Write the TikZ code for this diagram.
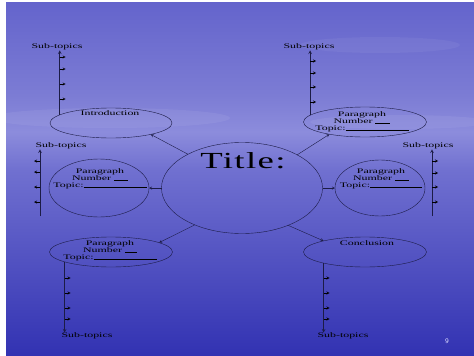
\documentclass[tikz,border=0pt]{standalone}
\usepackage{fontspec}
\newfontfamily\slidefont{Liberation Serif}[FakeStretch=1.7]
\newfontfamily\titlefont{Liberation Serif}[FakeStretch=1.6,LetterSpace=6]
\usepackage{tikz}
\usetikzlibrary{shapes,arrows,positioning}

\definecolor{skytop}{RGB}{100,100,204}
\definecolor{skylow}{RGB}{124,124,212}
\definecolor{horizon}{RGB}{140,140,220}
\definecolor{seamid}{RGB}{112,112,208}
\definecolor{seabot}{RGB}{50,50,178}
\definecolor{linecol}{RGB}{28,28,70}

\begin{document}
\begin{tikzpicture}[
  x=1pt, y=-1pt,
  bubble/.style={ellipse,draw=linecol,inner sep=0pt,outer sep=0pt},
  lbl/.style={font=\slidefont\fontsize{7}{6.8}\selectfont,text=black,inner sep=0pt,align=center},
  conn/.style={->,>=stealth,draw=linecol},
  stem/.style={->,>=stealth,draw=linecol,semithick},
  tickarr/.style={->,>=stealth,draw=black,thin}
]
\useasboundingbox (0,0) rectangle (474,356);

% Background
\fill[white] (0,0) rectangle (474,356);
\shade[top color=skytop,bottom color=skylow] (6,2) rectangle (474,95);
\shade[top color=skylow,bottom color=horizon] (6,95) rectangle (474,132);
\shade[top color=horizon,bottom color=seamid] (6,132) rectangle (474,170);
\shade[top color=seamid,bottom color=seabot] (6,170) rectangle (474,356);
\fill[white,opacity=0.06] (110,118) ellipse (120 and 10);
\fill[white,opacity=0.06] (400,122) ellipse (90 and 7);
\fill[white,opacity=0.05] (380,45) ellipse (80 and 8);

% Bubbles
\node[bubble,minimum width=161pt,minimum height=91pt] (title) at (242,188) {};
\node[bubble,minimum width=122pt,minimum height=30pt] (intro) at (111,123) {};
\node[bubble,minimum width=123pt,minimum height=30pt] (parUR) at (365,122) {};
\node[bubble,minimum width=100pt,minimum height=58pt] (parL) at (99,188) {};
\node[bubble,minimum width=90pt,minimum height=56pt] (parR) at (380,188) {};
\node[bubble,minimum width=123pt,minimum height=30pt] (parLL) at (111,252) {};
\node[bubble,minimum width=123pt,minimum height=30pt] (concl) at (365,252) {};

% Texts
\node[lbl,font=\titlefont\fontsize{23}{23}\selectfont] (titletxt) at (243,161) {Title:};
\node[lbl] (introtxt) at (110,113) {Introduction};
\node[lbl] (parURtxt) at (362,122) {Paragraph\\Number \rule{15pt}{0.4pt}\\Topic:\rule{63pt}{0.4pt}};
\node[lbl] (parLtxt) at (100,179) {Paragraph\\Number \rule{14pt}{0.4pt}\\Topic:\rule{63pt}{0.4pt}};
\node[lbl] (parRtxt) at (381,179) {Paragraph\\Number \rule{14pt}{0.4pt}\\Topic:\rule{52pt}{0.4pt}};
\node[lbl] (parLLtxt) at (110,251) {Paragraph\\Number \rule{12pt}{0.4pt}\\Topic:\rule{63pt}{0.4pt}};
\node[lbl] (concltxt) at (367,243) {Conclusion};

\node[lbl] (tlsub) at (57,47) {Sub-topics};
\node[lbl] (trsub) at (309,47) {Sub-topics};
\node[lbl] (lmsub) at (61,146) {Sub-topics};
\node[lbl] (rmsub) at (428,146) {Sub-topics};
\node[lbl] (blsub) at (87,336) {Sub-topics};
\node[lbl] (brsub) at (343,336) {Sub-topics};

% Title to bubbles
\draw[conn] (title.148) -- (intro.-16);
\draw[conn] (title.31) -- (parUR.-161);
\draw[conn] (title.180) -- (parL.0);
\draw[conn] (title.0) -- (parR.180);
\draw[conn] (title.218) -- (parLL.11);
\draw[conn] (title.-39) -- (concl.165);

% Sub-topic stems
\coordinate (lmfoot) at (40,216);
\coordinate (rmfoot) at (432,216);
\draw[stem] (intro.171) -- (intro.171 |- tlsub.south);
\draw[stem] (parUR.173) -- (parUR.173 |- trsub.south);
\draw[stem] (lmfoot) -- (lmfoot |- lmsub.south);
\draw[stem] (rmfoot) -- (rmfoot |- rmsub.south);
\draw[stem] (parLL.192) -- (parLL.192 |- blsub.north);
\draw[stem] (concl.195) -- (concl.195 |- brsub.north);

% Ticks
\foreach \y in {57,69,84,99}
  \draw[tickarr] (intro.171 |- 0,\y) -- ++(6,0);
\foreach \y in {61,73,87,102}
  \draw[tickarr] (parUR.173 |- 0,\y) -- ++(6,0);
\foreach \y in {161,172,187,202}
  \draw[tickarr] (lmfoot |- 0,\y) -- ++(-6,0);
\foreach \y in {161,173,187,202}
  \draw[tickarr] (rmfoot |- 0,\y) -- ++(6,0);
\foreach \y in {278,293,308,319}
  \draw[tickarr] (parLL.192 |- 0,\y) -- ++(6,0);
\foreach \y in {278,293,308,319}
  \draw[tickarr] (concl.195 |- 0,\y) -- ++(6,0);

\node[font=\sffamily\fontsize{7}{7}\selectfont,text=white!85!blue] (pagenum) at (447,341) {9};

\end{tikzpicture}
\end{document}
